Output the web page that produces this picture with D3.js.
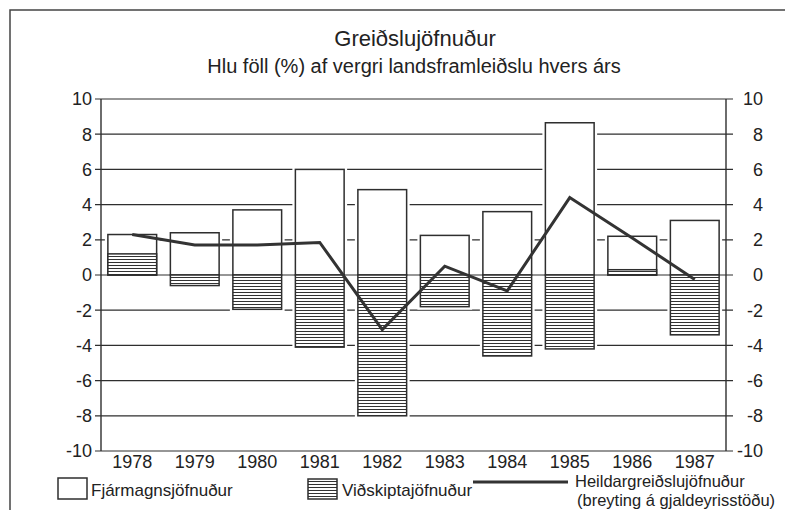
<!DOCTYPE html>
<html><head><meta charset="utf-8">
<script src="https://cdn.jsdelivr.net/npm/d3@7"></script>
<style>
body{margin:0;background:#fff}
text{font-family:"Liberation Sans",Arial,sans-serif;fill:#222}
</style>
</head><body>
<svg id="c" width="785" height="510"></svg>
<script>
const years = [1978,1979,1980,1981,1982,1983,1984,1985,1986,1987];
const capitalBalance = [2.3,2.4,3.7,6.0,4.85,2.25,3.6,8.65,2.2,3.1];
const currentBalance = [1.2,-0.6,-1.95,-4.1,-8.0,-1.8,-4.6,-4.2,0.3,-3.4];
const totalBalance = [2.3,1.7,1.7,1.85,-3.1,0.5,-0.9,4.4,2.1,-0.25];
const yTicks = [-10,-8,-6,-4,-2,0,2,4,6,8,10];
const title = "Greiðslujöfnuður";
const subtitle = "Hlu föll (%) af vergri landsframleiðslu hvers árs";
const legendLabels = ["Fjármagnsjöfnuður","Viðskiptajöfnuður","Heildargreiðslujöfnuður","(breyting á gjaldeyrisstöðu)"];

const svg = d3.select("#c");
const ink = "#2e2e2e";
const L = 101, R = 726;
const x = d3.scaleBand().domain(years).range([L, R]).paddingInner(0.22).paddingOuter(0.11);
const y = d3.scaleLinear().domain([-10, 10]).range([451, 99]);
const fmt = d => String(d).replace("\u2212", "-");

const defs = svg.append("defs");
const pat = defs.append("pattern").attr("id","hatch").attr("patternUnits","userSpaceOnUse")
  .attr("width",4).attr("height",3);
pat.append("rect").attr("width",4).attr("height",3).attr("fill","#fff");
pat.append("line").attr("x1",0).attr("x2",4).attr("y1",1.5).attr("y2",1.5)
  .attr("stroke","#333").attr("stroke-width",1);

// frame
svg.append("rect").attr("x",10).attr("y",10).attr("width",800).attr("height",520)
  .attr("fill","none").attr("stroke","#444").attr("stroke-width",1.5);

// titles
svg.append("text").attr("x",415).attr("y",46).attr("text-anchor","middle")
  .style("font-size","22px").text(title);
svg.append("text").attr("x",414).attr("y",73).attr("text-anchor","middle")
  .style("font-size","20px").text(subtitle);

// grid lines (non-zero)
svg.append("g").selectAll("line").data(yTicks.filter(d => d !== 0)).join("line")
  .attr("x1", L - 6).attr("x2", R + 7)
  .attr("y1", d => y(d)).attr("y2", d => y(d))
  .attr("stroke", ink).attr("stroke-width", 1.2);

// axes verticals
[L, R].forEach(xx => svg.append("line").attr("x1",xx).attr("x2",xx)
  .attr("y1",y(10)).attr("y2",y(-10)).attr("stroke",ink).attr("stroke-width",1.4));

// halos
const barRect = (v) => ({y0: y(Math.max(0, v)), y1: y(Math.min(0, v))});
const halo = svg.append("g");
years.forEach((yr, i) => {
  [capitalBalance[i], currentBalance[i]].forEach(v => {
    const r = barRect(v);
    halo.append("rect").attr("x", x(yr) - 3).attr("width", x.bandwidth() + 6)
      .attr("y", r.y0 - 3).attr("height", r.y1 - r.y0 + 6).attr("fill", "#fff");
  });
});

// zero line
svg.append("line").attr("x1", L - 6).attr("x2", R + 7).attr("y1", y(0)).attr("y2", y(0))
  .attr("stroke", ink).attr("stroke-width", 1.2);

// capital bars
svg.append("g").selectAll("rect").data(years).join("rect")
  .attr("x", d => x(d)).attr("width", x.bandwidth())
  .attr("y", (d, i) => barRect(capitalBalance[i]).y0)
  .attr("height", (d, i) => barRect(capitalBalance[i]).y1 - barRect(capitalBalance[i]).y0)
  .attr("fill", "#fff").attr("stroke", ink).attr("stroke-width", 1.5);

// current account bars
svg.append("g").selectAll("rect").data(years).join("rect")
  .attr("x", d => x(d)).attr("width", x.bandwidth())
  .attr("y", (d, i) => barRect(currentBalance[i]).y0)
  .attr("height", (d, i) => barRect(currentBalance[i]).y1 - barRect(currentBalance[i]).y0)
  .attr("fill", "url(#hatch)").attr("stroke", ink).attr("stroke-width", 1.5);

// total line
const line = d3.line().x((d, i) => x(years[i]) + x.bandwidth() / 2).y(d => y(d));
svg.append("path").datum(totalBalance).attr("d", line)
  .attr("fill", "none").attr("stroke", "#333").attr("stroke-width", 3).attr("stroke-linejoin", "miter");

// tick labels
svg.append("g").selectAll("text").data(yTicks).join("text")
  .attr("x", 92).attr("y", d => y(d)).attr("dy", "0.35em").attr("text-anchor", "end")
  .style("font-size", "18px").text(d => fmt(d3.format("d")(d)));
svg.append("g").selectAll("text").data(yTicks).join("text")
  .attr("x", 763).attr("y", d => y(d)).attr("dy", "0.35em").attr("text-anchor", "end")
  .style("font-size", "18px").text(d => fmt(d3.format("d")(d)));
svg.append("g").selectAll("text").data(years).join("text")
  .attr("x", d => x(d) + x.bandwidth() / 2).attr("y", 468).attr("text-anchor", "middle")
  .style("font-size", "18px").text(d => d);

// legend
svg.append("rect").attr("x",58).attr("y",478).attr("width",29).attr("height",21)
  .attr("fill","#fff").attr("stroke",ink).attr("stroke-width",1.5);
svg.append("text").attr("x",91).attr("y",496).style("font-size","17px").text(legendLabels[0]);
svg.append("rect").attr("x",308).attr("y",479).attr("width",29).attr("height",20)
  .attr("fill","url(#hatch)").attr("stroke",ink).attr("stroke-width",1.5);
svg.append("text").attr("x",342).attr("y",496).style("font-size","17px").text(legendLabels[1]);
svg.append("line").attr("x1",473).attr("x2",568).attr("y1",482).attr("y2",482)
  .attr("stroke","#333").attr("stroke-width",3);
svg.append("text").attr("x",575).attr("y",487).style("font-size","16.5px").text(legendLabels[2]);
svg.append("text").attr("x",577).attr("y",506).style("font-size","16.5px").text(legendLabels[3]);
</script>
</body></html>
